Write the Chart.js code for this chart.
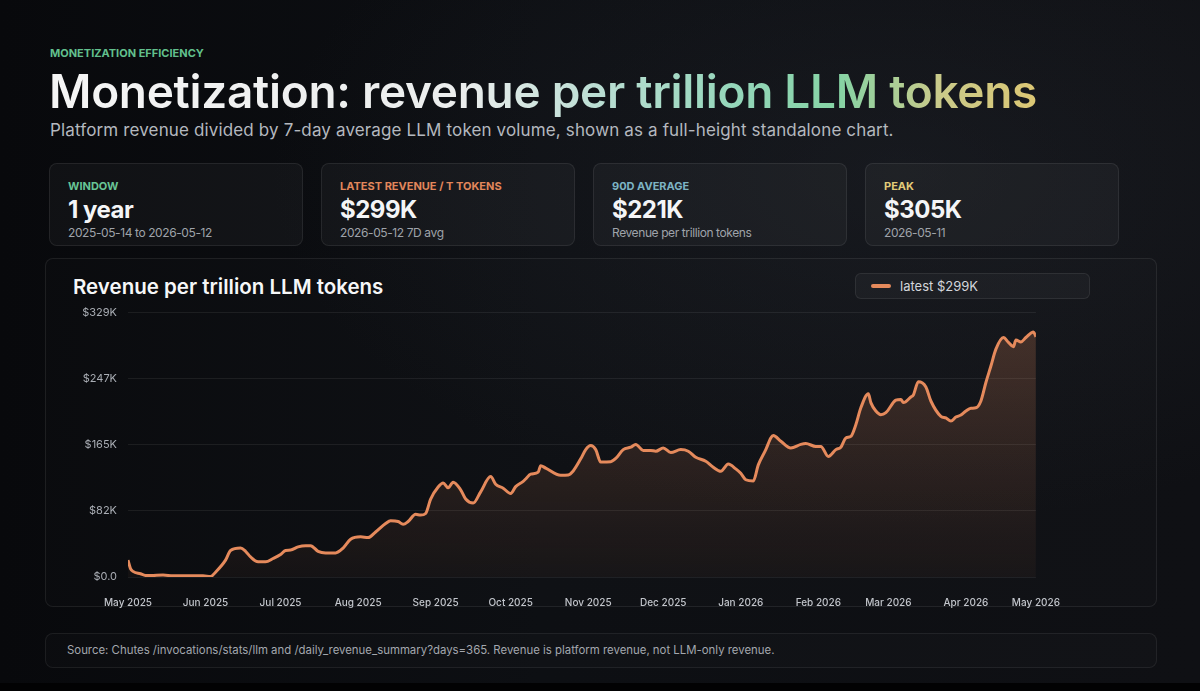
<!DOCTYPE html>
<html lang="en">
<head>
    <meta charset="UTF-8">
    <meta name="viewport" content="width=device-width, initial-scale=1.0">
    <title>Monetization: revenue per trillion LLM tokens</title>
    <style>
        * {
            margin: 0;
            padding: 0;
            box-sizing: border-box;
        }

        html, body {
            width: 1200px;
            height: 691px;
            overflow: hidden;
        }

        body {
            position: relative;
            font-family: Inter, "Noto Sans", Arial, sans-serif;
            color: #f2f3f5;
            background:
                radial-gradient(ellipse 900px 500px at 75% 25%, rgba(40, 44, 52, 0.35), rgba(0, 0, 0, 0) 70%),
                linear-gradient(90deg, #08090c 0%, #0d0f13 45%, #0f1014 100%);
        }

        .bottom-band {
            position: absolute;
            left: 0;
            top: 683px;
            width: 1200px;
            height: 8px;
            background: #020203;
        }

        .eyebrow {
            position: absolute;
            left: 50px;
            top: 46px;
            font-size: 11px;
            font-weight: 700;
            letter-spacing: 0;
            color: #62c08d;
            text-transform: uppercase;
        }

        h1 {
            position: absolute;
            left: 49px;
            top: 63px;
            font-size: 46px;
            font-weight: 600;
            letter-spacing: -0.3px;
            line-height: 56px;
            white-space: nowrap;
            background: linear-gradient(90deg, #f5f5f5 0%, #ebeded 42%, #b9ddd2 56%, #93d6b9 70%, #86d3a4 80%, #c9ca8a 90%, #dcc774 100%);
            -webkit-background-clip: text;
            background-clip: text;
            color: transparent;
        }

        .subtitle {
            position: absolute;
            left: 50px;
            top: 120px;
            font-size: 17px;
            letter-spacing: 0.14px;
            color: #b4b8bf;
            white-space: nowrap;
        }

        .card {
            position: absolute;
            top: 163px;
            width: 254px;
            height: 83px;
            border-radius: 8px;
            background: rgba(255, 255, 255, 0.035);
            border: 1px solid rgba(255, 255, 255, 0.08);
            padding: 16px 18px 0 18px;
        }

        .card .label {
            font-size: 11px;
            font-weight: 700;
            letter-spacing: 0;
            text-transform: uppercase;
            line-height: 12px;
        }

        .card .value {
            font-size: 24px;
            font-weight: 700;
            letter-spacing: -0.5px;
            line-height: 28px;
            margin-top: 4px;
            color: #f4f5f7;
        }

        .card .sub {
            font-size: 12px;
            letter-spacing: -0.4px;
            color: #9fa3aa;
            line-height: 14px;
            margin-top: 2px;
        }

        .panel {
            position: absolute;
            left: 45px;
            top: 258px;
            width: 1112px;
            height: 349px;
            border-radius: 8px;
            background: rgba(255, 255, 255, 0.012);
            border: 1px solid rgba(255, 255, 255, 0.08);
        }

        .panel h2 {
            position: absolute;
            left: 27px;
            top: 15px;
            font-size: 20.5px;
            font-weight: 600;
            letter-spacing: 0;
            color: #f6f7f8;
        }

        .legend-box {
            position: absolute;
            left: 809px;
            top: 14px;
            width: 235px;
            height: 26px;
            border-radius: 6px;
            background: rgba(255, 255, 255, 0.03);
            border: 1px solid rgba(255, 255, 255, 0.08);
            font-size: 13px;
            color: #d3d6db;
            line-height: 24px;
            padding-left: 44px;
        }

        .legend-box .swatch {
            position: absolute;
            left: 15px;
            top: 10px;
            width: 20px;
            height: 4px;
            border-radius: 2px;
            background: #e58a5c;
        }

        .chart-wrap {
            position: absolute;
            left: 9px;
            top: 36px;
            width: 1025px;
            height: 334px;
        }

        .footer {
            position: absolute;
            left: 45px;
            top: 633px;
            width: 1112px;
            height: 35px;
            border-radius: 8px;
            background: rgba(255, 255, 255, 0.015);
            border: 1px solid rgba(255, 255, 255, 0.07);
            font-size: 11.4px;
            color: #a3a7ae;
            line-height: 33px;
            padding-left: 21px;
            white-space: nowrap;
        }
    </style>
</head>
<body>

    <div class="eyebrow">Monetization efficiency</div>
    <h1>Monetization: revenue per trillion LLM tokens</h1>
    <div class="subtitle">Platform revenue divided by 7-day average LLM token volume, shown as a full-height standalone chart.</div>

    <div class="card" style="left: 49px;">
        <div class="label" style="color: #68c596;">Window</div>
        <div class="value">1 year</div>
        <div class="sub">2025-05-14 to 2026-05-12</div>
    </div>
    <div class="card" style="left: 321px;">
        <div class="label" style="color: #e2875b;">Latest revenue / T tokens</div>
        <div class="value">$299K</div>
        <div class="sub">2026-05-12 7D avg</div>
    </div>
    <div class="card" style="left: 593px;">
        <div class="label" style="color: #7db4c4;">90D average</div>
        <div class="value">$221K</div>
        <div class="sub">Revenue per trillion tokens</div>
    </div>
    <div class="card" style="left: 865px;">
        <div class="label" style="color: #e2cb78;">Peak</div>
        <div class="value">$305K</div>
        <div class="sub">2026-05-11</div>
    </div>

    <div class="panel">
        <h2>Revenue per trillion LLM tokens</h2>
        <div class="legend-box"><span class="swatch"></span>latest $299K</div>
        <div class="chart-wrap">
            <canvas id="revenueChart"></canvas>
        </div>
    </div>

    <div class="footer">Source: Chutes /invocations/stats/llm and /daily_revenue_summary?days=365. Revenue is platform revenue, not LLM-only revenue.</div>

    <div class="bottom-band"></div>

    <script src="https://cdn.jsdelivr.net/npm/chart.js"></script>
    <script>
        // days since 2025-05-14
        const dayIndex = [
            0, 1, 2, 5, 7, 9, 14, 18, 25, 30, 33, 35, 39, 41, 45, 47, 49, 52, 55, 58,
            61, 63, 65, 68, 71, 73, 76, 79, 83, 86, 89, 93, 96, 99, 103, 105, 108, 110, 112, 115,
            117, 119, 121, 124, 126, 128, 130, 133, 135, 138, 141, 145, 147, 150, 153, 155, 158, 159, 161, 164,
            165, 167, 173, 176, 178, 181, 183, 185, 187, 189, 193, 195, 198, 201, 203, 206, 209, 211, 214, 217,
            221, 224, 227, 231, 234, 237, 240, 243, 245, 247, 250, 252, 255, 257, 258, 261, 265, 269, 271, 275,
            277, 280, 283, 285, 287, 289, 291, 293, 296, 297, 299, 301, 303, 307, 309, 310, 313, 314, 316, 319,
            321, 325, 327, 329, 331, 333, 335, 337, 339, 341, 343, 345, 347, 350, 352, 354, 355, 357, 359, 362,
            363
        ];

        // revenue per trillion tokens, $K (7D avg)
        const revenueK = [
            21, 10.5, 7, 4, 2, 1.8, 2.5, 1.5, 1.5, 1.5, 0.5, 6, 21, 33, 36, 32, 25, 19, 19, 23,
            28, 33, 33.5, 37.5, 39, 39, 32, 30, 30, 36, 47, 50, 49, 56, 66.5, 70, 69, 65.5, 69, 78,
            77, 79, 97, 112, 117, 111, 118, 108.5, 97, 92, 106, 125, 115.5, 110.5, 104, 112.5, 119, 122, 128, 130.5,
            138.5, 135.5, 126.5, 127, 132, 147, 158.5, 163.5, 158.5, 143, 143.5, 147.5, 158.5, 161.5, 165, 157.5, 157.5, 156.5, 160.5, 155,
            158.5, 156.5, 149, 144, 136.5, 131.5, 140.5, 134.5, 129, 121, 119.5, 139.5, 158.5, 173, 176, 169, 160.5, 165, 166, 162.5,
            162.5, 150, 158.5, 161.5, 173, 175, 189.5, 210.5, 228, 217, 206.5, 202, 204.5, 220, 221, 217, 224, 226.5, 243, 236.5,
            219, 200, 198, 194, 199, 201.5, 206.5, 210, 210.5, 219, 242, 262.5, 283.5, 298, 292, 286.5, 295, 292.5, 298, 305,
            299
        ];

        const tickDays = [0, 31, 61, 92, 123, 153, 184, 214, 245, 276, 304, 335, 363];
        const tickLabels = ['May 2025', 'Jun 2025', 'Jul 2025', 'Aug 2025', 'Sep 2025', 'Oct 2025', 'Nov 2025',
            'Dec 2025', 'Jan 2026', 'Feb 2026', 'Mar 2026', 'Apr 2026', 'May 2026'];
        const yTickValues = [0, 82.25, 164.5, 246.75, 329];

        const lineColor = '#e58a5c';

        function formatK(v) {
            if (v === 0) return '$0.0';
            return '$' + Math.round(v) + 'K';
        }

        const ctx = document.getElementById('revenueChart').getContext('2d');
        new Chart(ctx, {
            type: 'line',
            data: {
                datasets: [{
                    label: 'latest $299K',
                    data: dayIndex.map((d, i) => ({ x: d, y: revenueK[i] })),
                    borderColor: lineColor,
                    borderWidth: 3,
                    pointRadius: 0,
                    cubicInterpolationMode: 'monotone',
                    fill: 'origin',
                    backgroundColor: function (context) {
                        const area = context.chart.chartArea;
                        if (!area) return 'rgba(229, 138, 92, 0.12)';
                        const g = context.chart.ctx.createLinearGradient(0, area.top, 0, area.bottom);
                        g.addColorStop(0, 'rgba(229, 138, 92, 0.24)');
                        g.addColorStop(1, 'rgba(229, 138, 92, 0.04)');
                        return g;
                    }
                }]
            },
            options: {
                responsive: true,
                maintainAspectRatio: false,
                animation: false,
                layout: {
                    padding: { top: 12, right: 35, left: 0, bottom: 0 }
                },
                plugins: {
                    legend: { display: false },
                    tooltip: { enabled: false }
                },
                scales: {
                    x: {
                        type: 'linear',
                        min: 0,
                        max: 363,
                        afterBuildTicks: function (scale) {
                            scale.ticks = tickDays.map(v => ({ value: v }));
                        },
                        ticks: {
                            autoSkip: false,
                            maxRotation: 0,
                            padding: 20,
                            color: '#c2c5cb',
                            font: { family: 'Inter', size: 10, weight: '500' },
                            callback: function (value, index) {
                                return tickLabels[index];
                            }
                        },
                        grid: { display: false, drawTicks: false },
                        border: { display: false }
                    },
                    y: {
                        min: 0,
                        max: 329,
                        afterBuildTicks: function (scale) {
                            scale.ticks = yTickValues.map(v => ({ value: v }));
                        },
                        afterFit: function (scale) {
                            scale.width = 73;
                        },
                        ticks: {
                            padding: 11,
                            color: '#a9adb4',
                            font: { family: 'Inter', size: 11 },
                            callback: function (value) {
                                return formatK(value);
                            }
                        },
                        grid: {
                            color: 'rgba(255, 255, 255, 0.07)',
                            drawTicks: false
                        },
                        border: { display: false }
                    }
                }
            }
        });
    </script>

</body>
</html>
